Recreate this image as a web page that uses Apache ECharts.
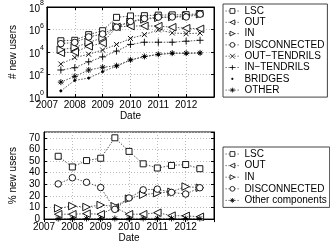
<!DOCTYPE html>
<html><head><meta charset="utf-8">
<script src="https://cdn.jsdelivr.net/npm/echarts@6/dist/echarts.min.js"></script>
<style>html,body{margin:0;padding:0;background:#fff}#c{width:330px;height:244px}</style>
</head><body><div id="c"></div>
<script>
// ---- data ----
const dates = [2007.5, 2008, 2008.5, 2009, 2009.5, 2010, 2010.5, 2011, 2011.5, 2012, 2012.5];

// top chart: number of new users (log scale)
const topNames = ['LSC', 'OUT', 'IN', 'DISCONNECTED', 'OUT\u2212TENDRILS', 'IN\u2212TENDRILS', 'BRIDGES', 'OTHER'];
const lscUsers   = [1.0e5, 1.1e5, 3.5e5, 7.8e5, 1.2e7, 1.6e7, 1.7e7, 1.9e7, 2.0e7, 2.1e7, 2.6e7];
const outUsers   = [8.5e3, 1.0e4, 3.2e4, 6.3e4, 1.7e6, 2.0e6, 2.1e6, 2.0e6, 1.6e6, 1.3e6, 1.15e6];
const inUsers    = [1.6e4, 2.5e4, 7.2e4, 1.8e5, 1.9e6, 4.8e6, 7.9e6, 1.1e7, 1.3e7, 1.7e7, 2.3e7];
const discUsers  = [5.5e4, 7.1e4, 2.2e5, 4.0e5, 1.6e6, 5.2e6, 9.3e6, 1.26e7, 1.3e7, 1.3e7, 2.3e7];
const outTUsers  = [850, 3.2e3, 6.3e3, 1.5e4, 4.7e4, 1.6e5, 3.5e5, 9.3e5, 5.0e5, 4.2e5, 4.8e5];
const inTUsers   = [250, 400, 1.35e3, 3.7e3, 1.2e4, 4.7e4, 7.4e4, 7.4e4, 7.4e4, 9.1e4, 1.1e5];
const bridgeUsers= [3.5, 30, 48, 180, 550, 1.9e3, 3.8e3, 6.0e3, 7.5e3, 7.5e3, 8.0e3];
const otherUsers = [21, 68, 250, 440, 600, 2.0e3, 4.0e3, 6.3e3, 7.9e3, 7.9e3, 8.3e3];

// bottom chart: percentage of new users
const bottomNames = ['LSC', 'OUT', 'IN', 'DISCONNECTED', 'Other components'];
const lscPct   = [54.1, 44.9, 50.4, 52.4, 70, 58.3, 47.6, 44, 46.2, 47, 43.4];
const outPct   = [4.2, 4.2, 4.7, 4.2, 10, 4.2, 4.2, 5.5, 3, 2.8, 2];
const inPct    = [9.3, 11.2, 10.4, 12.1, 11, 17.6, 21, 22.4, 23.5, 28, 27];
const discPct  = [30.3, 35.6, 31.7, 27.2, 8.4, 18.2, 25.2, 25.8, 23, 21.6, 27];
const otherPct = [0.4, 0.5, 0.5, 0.4, 0.5, 0.5, 0.6, 0.6, 0.6, 0.5, 0.5];

// ---- styles ----
const FONT = 'Liberation Sans';
const crossPath = 'path://M0,0L10,10M10,0L0,10';
const plusPath = 'path://M5,0L5,10M0,5L10,5';
const starPath = 'path://M5,0L5,10M0,5L10,5M1.5,1.5L8.5,8.5M8.5,1.5L1.5,8.5';
const dotIcon = 'path://M0,0L0,0.01M10,10L10,10.01M4,4L6,4L6,6L4,6Z';
const hollow = {color: '#fff', borderColor: '#000', borderWidth: 0.9};
const solid = {color: '#000', borderColor: '#000', borderWidth: 0.9};
const symbols = {
  'LSC': {symbol: 'rect', symbolSize: 6, itemStyle: hollow},
  'OUT': {symbol: 'triangle', symbolSize: 7.5, symbolRotate: 90, itemStyle: hollow},
  'IN': {symbol: 'triangle', symbolSize: 7.5, symbolRotate: -90, itemStyle: hollow},
  'DISCONNECTED': {symbol: 'circle', symbolSize: 6.5, itemStyle: hollow},
  'OUT\u2212TENDRILS': {symbol: crossPath, symbolSize: 5, itemStyle: solid},
  'IN\u2212TENDRILS': {symbol: plusPath, symbolSize: 7, itemStyle: solid},
  'BRIDGES': {symbol: 'circle', symbolSize: 2.2, itemStyle: solid},
  'OTHER': {symbol: starPath, symbolSize: 6, itemStyle: solid},
  'Other components': {symbol: starPath, symbolSize: 6, itemStyle: solid}
};

function mk(name, arr, xi, yi) {
  return Object.assign({
    name: name, type: 'line', xAxisIndex: xi, yAxisIndex: yi,
    data: dates.map((d, i) => [d, arr[i]]),
    lineStyle: {color: '#555', width: 1, type: [1.5, 1.5]},
    showAllSymbol: true, animation: false, silent: true
  }, symbols[name]);
}

const axisLbl = {color: '#000', fontSize: 10, fontFamily: FONT};
function xAx(grid, pos) {
  const bottom = pos === 'bottom';
  return {
    type: 'value', gridIndex: grid, position: pos, min: 2007, max: 2013, interval: 1,
    axisLine: {show: true, lineStyle: {color: '#000', width: 1}},
    axisTick: {show: true, inside: true, length: 3, lineStyle: {color: '#000'}},
    axisLabel: Object.assign({show: bottom, margin: 3, showMaxLabel: false, formatter: v => String(v)}, axisLbl),
    splitLine: {show: bottom, lineStyle: {color: '#bbb', type: [1, 2]}},
    name: bottom ? 'Date' : '', nameLocation: 'middle', nameGap: grid === 0 ? 13 : 12,
    nameTextStyle: {color: '#000', fontSize: 10, fontFamily: FONT}
  };
}

function legendData(names) {
  return names.map(n => n === 'BRIDGES' ? {name: n, icon: dotIcon} : {name: n});
}

const legendCommon = {
  orient: 'vertical', left: 223, padding: [2, 3, 2, 2],
  itemWidth: 14, itemHeight: 6, borderColor: '#444', borderWidth: 1,
  backgroundColor: '#fff', selectedMode: false,
  itemStyle: {borderWidth: 0.8},
  lineStyle: {width: 0.8},
  textStyle: {color: '#000', fontSize: 10, lineHeight: 10, fontFamily: FONT}
};

const option = {
  backgroundColor: '#fff',
  textStyle: {fontFamily: FONT},
  grid: [
    {left: 28, right: 116, top: 5, bottom: 147, show: true, borderColor: '#000', borderWidth: 1, backgroundColor: '#fff'},
    {left: 28, right: 116, top: 132, bottom: 22, show: true, borderColor: '#000', borderWidth: 1, backgroundColor: '#fff'}
  ],
  xAxis: [xAx(0, 'bottom'), xAx(0, 'top'), xAx(1, 'bottom'), xAx(1, 'top')],
  yAxis: [
    {type: 'log', logBase: 10, gridIndex: 0, position: 'left', min: 1, max: 1e8, interval: 2,
     axisLine: {show: true, lineStyle: {color: '#000'}},
     axisTick: {show: true, inside: true, length: 3, lineStyle: {color: '#000'}},
     axisLabel: {margin: 3, color: '#000', fontFamily: FONT,
       formatter: v => '{b|10}{s|' + Math.round(Math.log10(v)) + '}',
       rich: {b: {fontSize: 10, fontFamily: FONT, color: '#000', verticalAlign: 'bottom', lineHeight: 14},
              s: {fontSize: 7, fontFamily: FONT, color: '#000', verticalAlign: 'top'}}},
     splitLine: {show: true, lineStyle: {color: '#bbb', type: [1, 2]}},
     minorTick: {show: false},
     name: '# new users', nameLocation: 'middle', nameGap: 15,
     nameTextStyle: {color: '#000', fontSize: 10, fontFamily: FONT}},
    {type: 'log', logBase: 10, gridIndex: 0, position: 'right', min: 1, max: 1e8, interval: 2,
     axisLine: {show: true, lineStyle: {color: '#000'}},
     axisTick: {show: true, inside: true, length: 3, lineStyle: {color: '#000'}},
     axisLabel: {show: false}, splitLine: {show: false}},
    {type: 'value', gridIndex: 1, position: 'left', min: 0, max: 75, interval: 10,
     axisLine: {show: true, lineStyle: {color: '#000'}},
     axisTick: {show: true, inside: true, length: 3, lineStyle: {color: '#000'}},
     axisLabel: Object.assign({margin: 4, showMaxLabel: false}, axisLbl),
     splitLine: {show: true, lineStyle: {color: '#bbb', type: [1, 2]}},
     name: '% new users', nameLocation: 'middle', nameGap: 16,
     nameTextStyle: {color: '#000', fontSize: 10, fontFamily: FONT}},
    {type: 'value', gridIndex: 1, position: 'right', min: 0, max: 75, interval: 10,
     axisLine: {show: true, lineStyle: {color: '#000'}},
     axisTick: {show: true, inside: true, length: 3, lineStyle: {color: '#000'}},
     axisLabel: {show: false}, splitLine: {show: false}}
  ],
  legend: [
    Object.assign({data: legendData(topNames), top: 4, itemGap: 1.3}, legendCommon),
    Object.assign({data: legendData(bottomNames), top: 147, itemGap: 1.6}, legendCommon)
  ],
  series: [
    mk('LSC', lscUsers, 0, 0),
    mk('OUT', outUsers, 0, 0),
    mk('IN', inUsers, 0, 0),
    mk('DISCONNECTED', discUsers, 0, 0),
    mk('OUT\u2212TENDRILS', outTUsers, 0, 0),
    mk('IN\u2212TENDRILS', inTUsers, 0, 0),
    mk('BRIDGES', bridgeUsers, 0, 0),
    mk('OTHER', otherUsers, 0, 0),
    mk('LSC', lscPct, 2, 2),
    mk('OUT', outPct, 2, 2),
    mk('IN', inPct, 2, 2),
    mk('DISCONNECTED', discPct, 2, 2),
    mk('Other components', otherPct, 2, 2)
  ]
};
const chart = echarts.init(document.getElementById('c'), null, {renderer: 'canvas'});
chart.setOption(option);
</script></body></html>
